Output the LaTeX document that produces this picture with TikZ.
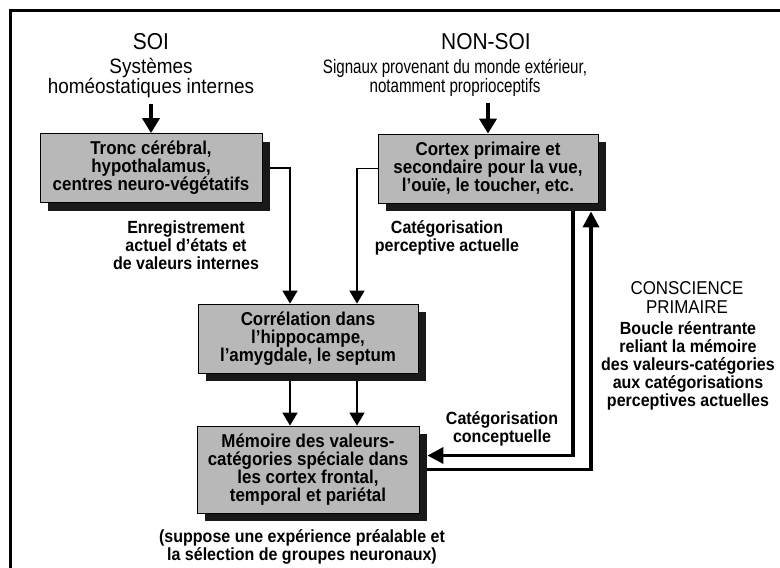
\documentclass[tikz,border=0pt]{standalone}
\usepackage{fontspec}
\setmainfont{Liberation Sans}
\newfontfamily\narrowfont[FakeStretch=0.78]{Liberation Sans}
\newfontfamily\tallfont[FakeStretch=0.91]{Liberation Sans}
\usetikzlibrary{arrows.meta,shadows}
\begin{document}
\begin{tikzpicture}[x=1pt,y=-1pt,
  box/.style={draw=black, line width=0.8pt, fill=black!28, align=center, inner sep=0pt,
    font=\tallfont\bfseries\fontsize{18.6}{18}\selectfont,
    drop shadow={shadow xshift=8pt, shadow yshift=-8pt, fill=black!90, opacity=1}},
  lab/.style={align=center, inner sep=0pt, font=\tallfont\bfseries\fontsize{17.6}{18}\selectfont},
  ttl/.style={align=center, inner sep=0pt, font=\tallfont\fontsize{23}{22}\selectfont},
  subl/.style={align=center, inner sep=0pt, font=\tallfont\fontsize{20.8}{18}\selectfont},
  subr/.style={align=center, inner sep=0pt, font=\narrowfont\fontsize{19.4}{18}\selectfont},
  cons/.style={align=center, inner sep=0pt, font=\tallfont\fontsize{18.6}{19}\selectfont},
  bigarrow/.style={line width=4.5pt, -{Triangle[length=15pt,width=17pt]}},
  thinarrow/.style={line width=1.6pt, -{Triangle[length=13pt,width=15pt]}},
  loop/.style={line width=3.5pt, -{Triangle[length=16pt,width=16pt]}},
  frame/.style={line width=3pt}]
\useasboundingbox (0,0) rectangle (780,568);
\fill[white] (0,0) rectangle (780,568);
% frame (top and left edges)
\draw[frame] (780,10) -- (10,10) -- (10,568);

% headers
\node[ttl] (soi) at (151,42) {SOI};
\node[subl] (soisub) at (151,78) {Systèmes\\homéostatiques internes};
\node[ttl] (nonsoi) at (486,42) {NON-SOI};
\node[subr] (nonsoisub) at (455,78) {Signaux provenant du monde extérieur,\\notamment proprioceptifs};

% boxes
\node[box, minimum width=222pt, minimum height=69pt] (b1) at (151,168)
  {Tronc cérébral,\\hypothalamus,\\centres neuro-végétatifs};
\node[box, minimum width=220pt, minimum height=69pt] (b2) at (488,168.5)
  {Cortex primaire et\\secondaire pour la vue,\\l’ouïe, le toucher, etc.};
\node[box, minimum width=220pt, minimum height=69pt] (b3) at (308,338.5)
  {Corrélation dans\\l’hippocampe,\\l’amygdale, le septum};
\node[box, minimum width=222pt, minimum height=87pt] (b4) at (308,469.5)
  {Mémoire des valeurs-\\catégories spéciale dans\\les cortex frontal,\\temporal et pariétal};

% labels
\node[lab] (l1) at (186,245) {Enregistrement\\actuel d’états et\\de valeurs internes};
\node[lab] (l2) at (447,238) {Catégorisation\\perceptive actuelle};
\node[lab] (l3) at (502,429) {Catégorisation\\conceptuelle};
\node[cons] (c1) at (687,298) {CONSCIENCE\\PRIMAIRE};
\node[lab] (c2) at (688,366) {Boucle réentrante\\reliant la mémoire\\des valeurs-catégories\\aux catégorisations\\perceptives actuelles};
\node[lab] (note) at (302,547) {(suppose une expérience préalable et\\la sélection de groupes neuronaux)};

% header arrows
\draw[bigarrow, shorten <=6pt] (soisub.south) -- (b1.north);
\draw[bigarrow, shorten <=6pt] (b2.north |- nonsoisub.south) -- (b2.north);

% into hippocampus box
\draw[thinarrow] ([xshift=8pt]b1.east) -| ([xshift=-18pt]b3.north);
\draw[thinarrow] (b2.west) -| ([xshift=49pt]b3.north);

% hippocampus to memory
\draw[thinarrow] ([xshift=-18pt,yshift=-8pt]b3.south) -- ([xshift=-18pt]b4.north);
\draw[thinarrow] ([xshift=49pt,yshift=-8pt]b3.south) -- ([xshift=49pt]b4.north);

% reentrant loop
\draw[loop] ([xshift=85pt,yshift=-8pt]b2.south) |- ([xshift=8pt,yshift=14pt]b4.east);
\draw[loop] ([xshift=8pt]b4.east) -| ([xshift=103pt,yshift=-8pt]b2.south);
\end{tikzpicture}
\end{document}
